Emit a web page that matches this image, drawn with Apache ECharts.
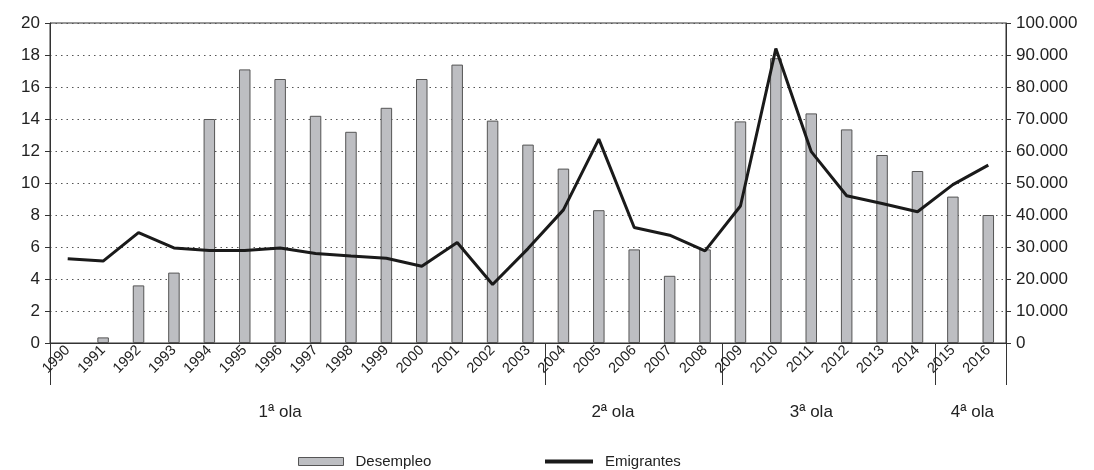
<!DOCTYPE html>
<html><head><meta charset="utf-8">
<script src="https://cdn.jsdelivr.net/npm/echarts@6/dist/echarts.min.js"></script>
<style>html,body{margin:0;padding:0;background:#fff}#c{width:1094px;height:470px}</style>
</head><body><div id="c"></div>
<script>
const years = ['1990','1991','1992','1993','1994','1995','1996','1997','1998','1999','2000','2001','2002','2003','2004','2005','2006','2007','2008','2009','2010','2011','2012','2013','2014','2015','2016'];
const desempleo = [null,0.35,3.6,4.4,14.0,17.1,16.5,14.2,13.2,14.7,16.5,17.4,13.9,12.4,10.9,8.3,5.85,4.2,5.85,13.85,17.8,14.35,13.35,11.75,10.75,9.15,8.0];
const emigrantes = [26300,25600,34500,29700,28900,28900,29700,28000,27200,26500,24000,31400,18300,29500,41600,63700,36100,33700,28800,42800,92000,59800,46000,43600,41000,49500,55600];
const waves = ['1ª ola','2ª ola','3ª ola','4ª ola'];
const waveStarts = [0,14,19,25];
const leftAxis = {min:0,max:20,interval:2};
const rightAxis = {min:0,max:100000,interval:10000};

// layout (category units where each wave label sits)
const waveLabelAt = [6.5,15.9,21.5,26.05];
const G = {left:50,right:88,top:23,bottom:127};
const FONT = '"Liberation Sans", Arial, sans-serif';
const fmtThousands = v => String(v).replace(/\B(?=(\d{3})+(?!\d))/g,'.');

const chart = echarts.init(document.getElementById('c'));
const plotW = 1094 - G.left - G.right;
const option = {
  animation:false,
  backgroundColor:'#fff',
  textStyle:{fontFamily:FONT,color:'#222'},
  grid:{left:G.left,right:G.right,top:G.top,bottom:G.bottom,show:true,borderColor:'#333',borderWidth:1,backgroundColor:'transparent'},
  legend:[
    {left:293,top:449,data:[{name:'Desempleo',icon:'rect',itemStyle:{color:'#bdbec2',borderColor:'#555',borderWidth:1}}],
     itemWidth:45,itemHeight:8,textStyle:{fontFamily:FONT,fontSize:15,color:'#222',padding:[0,0,0,7]}},
    {left:540,top:449,data:[{name:'Emigrantes',icon:'rect',itemStyle:{color:'#1a1a1a',borderWidth:0}}],
     itemWidth:48,itemHeight:4,textStyle:{fontFamily:FONT,fontSize:15,color:'#222',padding:[0,0,0,7]}}
  ],
  xAxis:{type:'category',data:years,boundaryGap:true,
    axisLine:{lineStyle:{color:'#333',width:1}},
    axisTick:{show:true,length:42,interval:(i)=>waveStarts.includes(i),lineStyle:{color:'#333',width:1}},
    axisLabel:{rotate:45,fontSize:14.5,color:'#222',margin:5,interval:0,fontFamily:FONT}
  },
  yAxis:[
    {type:'value',min:leftAxis.min,max:leftAxis.max,interval:leftAxis.interval,
     axisLine:{show:true,lineStyle:{color:'#333'}},
     axisTick:{show:true,length:5,lineStyle:{color:'#333'}},
     axisLabel:{fontSize:17,color:'#222',margin:10,fontFamily:FONT},
     splitLine:{show:true,lineStyle:{color:'#555',width:1,type:[1.5,4]}}},
    {type:'value',min:rightAxis.min,max:rightAxis.max,interval:rightAxis.interval,position:'right',
     axisLine:{show:true,lineStyle:{color:'#333'}},
     axisTick:{show:true,length:5,lineStyle:{color:'#333'}},
     axisLabel:{fontSize:17,color:'#222',margin:10,fontFamily:FONT,formatter:v=>fmtThousands(v)},
     splitLine:{show:false}}
  ],
  series:[
    {name:'Desempleo',type:'bar',yAxisIndex:0,data:desempleo,barWidth:11.5,
     itemStyle:{color:'#bdbec2',borderColor:'#555',borderWidth:1}},
    {name:'Emigrantes',type:'line',yAxisIndex:1,data:emigrantes,symbol:'none',
     lineStyle:{color:'#1a1a1a',width:3},itemStyle:{color:'#1a1a1a'},z:5}
  ],
  graphic: waves.map((w,i)=>({type:'text',
    x: G.left + plotW*waveLabelAt[i]/years.length, y:412,
    style:{text:w,fontFamily:FONT,fontSize:17,fill:'#222',align:'center',verticalAlign:'middle'}}))
};
chart.setOption(option);
</script>
</body></html>
